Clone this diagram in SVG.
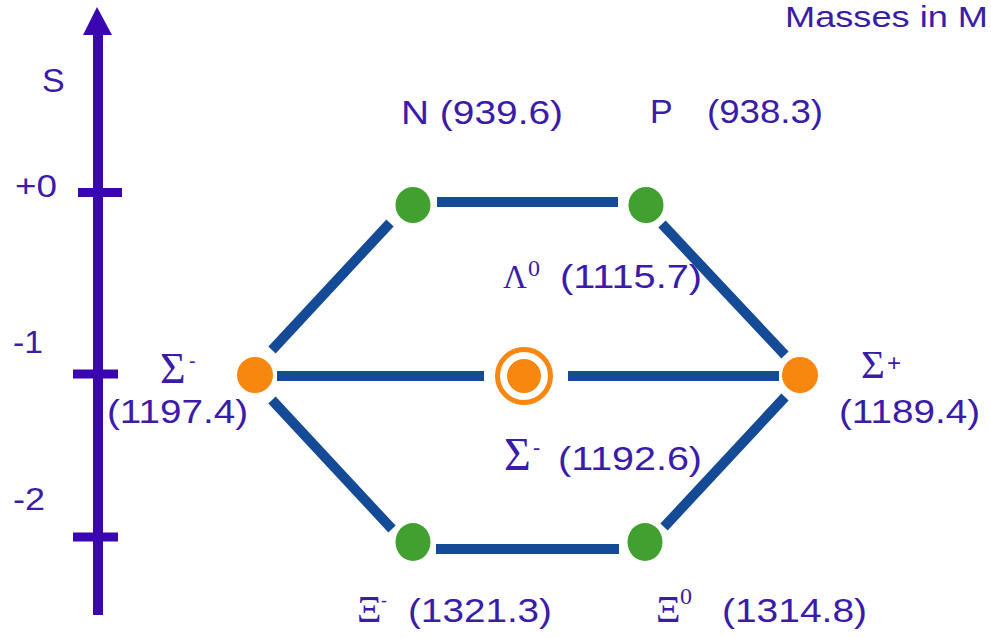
<svg xmlns="http://www.w3.org/2000/svg" width="991" height="638" viewBox="0 0 991 638">
<defs>
<style>
.t{font-family:"Liberation Sans",Arial,sans-serif;font-size:34px;fill:#3a1ca8}
.g{font-family:"Liberation Serif","Times New Roman",serif;fill:#3a1ca8}
.edge{stroke:#154b96;stroke-width:10;stroke-linecap:butt;fill:none}
.axis{stroke:#3a06b0;fill:none}
.green{fill:#41a02f}
.orange{fill:#f7870f}
</style>
</defs>
<rect width="991" height="638" fill="#ffffff"/>

<g id="axis">
<line class="axis" x1="98" y1="30" x2="98" y2="615" stroke-width="10"/>
<polygon points="97,7 83,35 112,35" fill="#3a06b0"/>
<line class="axis" x1="78" y1="192.5" x2="122" y2="192.5" stroke-width="9"/>
<line class="axis" x1="73" y1="374" x2="118" y2="374" stroke-width="9"/>
<line class="axis" x1="73" y1="537" x2="118" y2="537" stroke-width="9"/>
<text class="t" x="42" y="92" font-size="36">S</text>
<text class="t" x="15" y="197" style="font-size:31px" textLength="42" lengthAdjust="spacingAndGlyphs">+0</text>
<text class="t" x="13" y="353" style="font-size:31px" textLength="30" lengthAdjust="spacingAndGlyphs">-1</text>
<text class="t" x="13" y="510" style="font-size:31px" textLength="32" lengthAdjust="spacingAndGlyphs">-2</text>
</g>

<g id="title">
<text class="t" x="785" y="27" style="font-size:29px" textLength="203" lengthAdjust="spacingAndGlyphs">Masses in M</text>
</g>

<g id="connectors">
<line class="edge" x1="437" y1="202" x2="618" y2="202"/>
<line class="edge" x1="390" y1="223" x2="272" y2="350"/>
<line class="edge" x1="662" y1="224" x2="785" y2="355"/>
<line class="edge" x1="277" y1="376" x2="484" y2="376"/>
<line class="edge" x1="568" y1="376" x2="779" y2="376"/>
<line class="edge" x1="272" y1="400" x2="392" y2="529"/>
<line class="edge" x1="785" y1="397" x2="664" y2="527"/>
<line class="edge" x1="436" y1="549" x2="619" y2="549"/>
</g>

<g id="node-n">
<ellipse class="green" cx="413" cy="205" rx="17.5" ry="18"/>
<text class="t" x="401" y="124" textLength="162" lengthAdjust="spacingAndGlyphs">N (939.6)</text>
</g>

<g id="node-p">
<ellipse class="green" cx="646" cy="205" rx="17.5" ry="18"/>
<text class="t" x="650" y="123">P</text>
<text class="t" x="707" y="123" textLength="116" lengthAdjust="spacingAndGlyphs">(938.3)</text>
</g>

<g id="node-sigma-minus">
<circle class="orange" cx="255" cy="375" r="18"/>
<text class="g" x="160" y="383" font-size="44">Σ</text>
<text class="t" x="189" y="368" style="font-size:20px">-</text>
<text class="t" x="107" y="423" textLength="141" lengthAdjust="spacingAndGlyphs">(1197.4)</text>
</g>

<g id="node-center">
<circle cx="524" cy="376" r="26.5" fill="none" stroke="#f7870f" stroke-width="5"/>
<circle class="orange" cx="524" cy="376" r="17"/>
<text class="g" x="503" y="288" font-size="33">Λ</text>
<text class="g" x="528" y="276" font-size="24">0</text>
<text class="t" x="560" y="288" textLength="142" lengthAdjust="spacingAndGlyphs">(1115.7)</text>
<text class="g" x="504" y="470" font-size="46">Σ</text>
<text class="t" x="533" y="455" style="font-size:22px">-</text>
<text class="t" x="558" y="470" textLength="144" lengthAdjust="spacingAndGlyphs">(1192.6)</text>
</g>

<g id="node-sigma-plus">
<circle class="orange" cx="800" cy="375" r="18"/>
<text class="g" x="861" y="378" font-size="41">Σ</text>
<text class="t" x="887" y="371" style="font-size:24px">+</text>
<text class="t" x="839" y="423" textLength="141" lengthAdjust="spacingAndGlyphs">(1189.4)</text>
</g>

<g id="node-xi-minus">
<ellipse class="green" cx="413" cy="542" rx="17.5" ry="19"/>
<text class="g" x="357" y="622" font-size="38">Ξ</text>
<text class="t" x="381" y="607" style="font-size:18px">-</text>
<text class="t" x="408" y="622" textLength="144" lengthAdjust="spacingAndGlyphs">(1321.3)</text>
</g>

<g id="node-xi-zero">
<ellipse class="green" cx="645" cy="542" rx="17.5" ry="19"/>
<text class="g" x="656" y="622" font-size="38">Ξ</text>
<text class="g" x="680" y="604" font-size="24">0</text>
<text class="t" x="722" y="622" textLength="145" lengthAdjust="spacingAndGlyphs">(1314.8)</text>
</g>
</svg>
